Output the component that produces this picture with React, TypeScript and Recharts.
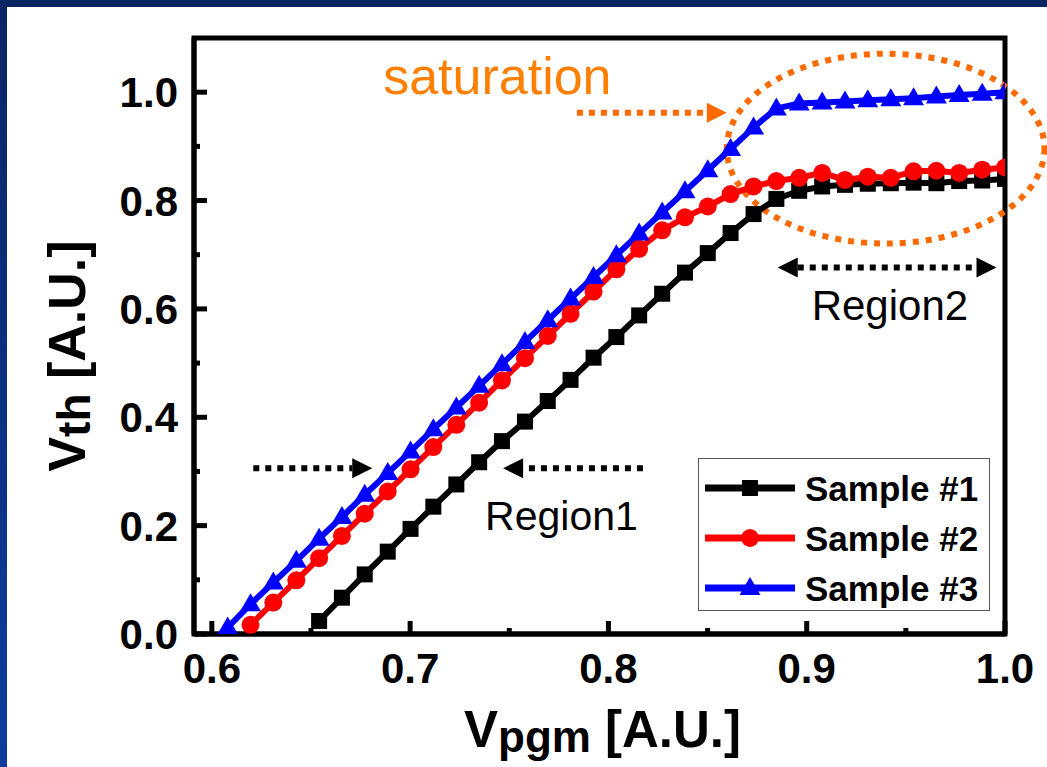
import React from 'react';
import {
  LineChart,
  Line,
  XAxis,
  YAxis,
  Legend,
  ReferenceLine,
  ReferenceArea,
  ReferenceDot,
} from 'recharts';

// Program voltage sweep (shared by all samples)
const vpgm = [
  0.608, 0.6195, 0.631, 0.6426, 0.6541, 0.6656, 0.6771, 0.6887, 0.7002, 0.7117,
  0.7233, 0.7348, 0.7463, 0.7579, 0.7694, 0.7809, 0.7925, 0.804, 0.8155, 0.8271,
  0.8386, 0.8501, 0.8616, 0.8732, 0.8847, 0.8962, 0.9078, 0.9193, 0.9308, 0.9424,
  0.9539, 0.9654, 0.9769, 0.9885, 1.0,
];

// Threshold voltage per sample (null = not measured at that step)
const sample1 = [
  null, null, null, null, 0.024, 0.067, 0.11, 0.152, 0.194, 0.235,
  0.276, 0.317, 0.356, 0.392, 0.43, 0.469, 0.51, 0.548, 0.588, 0.628,
  0.667, 0.703, 0.74, 0.775, 0.803, 0.818, 0.826, 0.829, 0.831, 0.832,
  0.833, 0.832, 0.836, 0.837, 0.84,
];
const sample2 = [
  null, 0.017, 0.058, 0.099, 0.14, 0.181, 0.222, 0.263, 0.304, 0.345,
  0.386, 0.427, 0.468, 0.509, 0.55, 0.591, 0.632, 0.673, 0.711, 0.745,
  0.769, 0.789, 0.812, 0.826, 0.836, 0.842, 0.851, 0.838, 0.844, 0.842,
  0.854, 0.855, 0.851, 0.857, 0.861,
];
const sample3 = [
  0.012, 0.055, 0.095, 0.135, 0.176, 0.216, 0.257, 0.297, 0.337, 0.378,
  0.418, 0.458, 0.498, 0.539, 0.579, 0.619, 0.659, 0.699, 0.739, 0.778,
  0.817, 0.856, 0.895, 0.935, 0.97, 0.979, 0.981, 0.983, 0.985, 0.987,
  0.989, 0.992, 0.995, 0.997, 1.0,
];

const seriesNames = ['Sample #1', 'Sample #2', 'Sample #3'];
const seriesKeys = ['s1', 's2', 's3'];
const seriesColors = ['#000000', '#ff0000', '#0000ff'];

const xTicks = [0.6, 0.65, 0.7, 0.75, 0.8, 0.85, 0.9, 0.95, 1.0];
const yTicks = [0, 0.1, 0.2, 0.3, 0.4, 0.5, 0.6, 0.7, 0.8, 0.9, 1.0];
const xDomain = [0.591, 1.0];
const yDomain = [0, 1.1];

const rows = vpgm.map((v, i) => ({ vpgm: v, s1: sample1[i], s2: sample2[i], s3: sample3[i] }));

const FONT = '"Liberation Sans", Arial, Helvetica, sans-serif';
const ORANGE = '#ff6a00';
const W = 1047;
const H = 767;

const isMajor = (v: number) => Math.abs(v * 10 - Math.round(v * 10)) < 1e-6;

// ---------- markers ----------
function Marker({ kind, cx, cy, color }: any) {
  if (cx == null || cy == null || isNaN(cx) || isNaN(cy)) return <g />;
  if (kind === 'square') return <rect x={cx - 8} y={cy - 8} width={16} height={16} fill={color} />;
  if (kind === 'circle') return <circle cx={cx} cy={cy} r={9} fill={color} />;
  return (
    <polygon
      points={`${cx},${cy - 11} ${cx - 10.5},${cy + 7} ${cx + 10.5},${cy + 7}`}
      fill={color}
    />
  );
}
const markerKinds: Record<string, string> = { s1: 'square', s2: 'circle', s3: 'triangle' };

const makeDot = (key: string, color: string) => (props: any) => (
  <Marker key={`${key}-${props.index}`} kind={markerKinds[key]} cx={props.cx} cy={props.cy} color={color} />
);

// ---------- axis ticks (inward, major + minor) ----------
function XTick(props: any) {
  const { x, y, payload } = props;
  const v = payload.value;
  const major = isMajor(v);
  return (
    <g>
      <line x1={x} y1={y} x2={x} y2={y - (major ? 13 : 6)} stroke="#000" strokeWidth={5} />
      {major && (
        <text x={x} y={y + 49} textAnchor="middle" fontFamily={FONT} fontWeight="bold" fontSize={42} fill="#000">
          {v.toFixed(1)}
        </text>
      )}
    </g>
  );
}

function YTick(props: any) {
  const { x, y, payload } = props;
  const v = payload.value;
  const major = isMajor(v / 2);
  return (
    <g>
      <line x1={x} y1={y} x2={x + (major ? 13 : 6)} y2={y} stroke="#000" strokeWidth={5} />
      {major && (
        <text x={x - 16} y={y + 15} textAnchor="end" fontFamily={FONT} fontWeight="bold" fontSize={42} fill="#000">
          {v.toFixed(1)}
        </text>
      )}
    </g>
  );
}

// ---------- axis titles ----------
function XTitle({ viewBox }: any) {
  const cx = viewBox.x + viewBox.width / 2 + 3;
  const by = viewBox.y + 113;
  return (
    <text x={cx} y={by} textAnchor="middle" fontFamily={FONT} fontWeight="bold" fill="#000">
      <tspan fontSize={51}>V</tspan>
      <tspan fontSize={44} dy={5}>pgm</tspan>
      <tspan fontSize={51} dy={-5}> [A.U.]</tspan>
    </text>
  );
}

function YTitle({ viewBox }: any) {
  const cy = viewBox.y + viewBox.height / 2 + 20;
  const bx = 85;
  return (
    <text
      x={bx}
      y={cy}
      transform={`rotate(-90, ${bx}, ${cy})`}
      textAnchor="middle"
      fontFamily={FONT}
      fontWeight="bold"
      fill="#000"
    >
      <tspan fontSize={52}>V</tspan>
      <tspan fontSize={46} dy={5}>th</tspan>
      <tspan fontSize={52} dy={-5}> [A.U.]</tspan>
    </text>
  );
}

// ---------- annotations ----------
function DottedArrow({ x1, y1, x2, y2, color, both }: any) {
  if ([x1, y1, x2, y2].some((v) => v == null || isNaN(v))) return <g />;
  const head = 20;
  const half = 10;
  const dir = Math.sign(x2 - x1) || 1;
  const startX = both ? x1 + dir * head : x1;
  const endX = x2 - dir * head;
  return (
    <g>
      <line x1={startX} y1={y1} x2={endX} y2={y2} stroke={color} strokeWidth={6} strokeDasharray="6 6" />
      <polygon points={`${x2},${y2} ${x2 - dir * head},${y2 - half} ${x2 - dir * head},${y2 + half}`} fill={color} />
      {both && (
        <polygon points={`${x1},${y1} ${x1 + dir * head},${y1 - half} ${x1 + dir * head},${y1 + half}`} fill={color} />
      )}
    </g>
  );
}

const arrowShape = (color: string, both = false) => (p: any) => (
  <DottedArrow x1={p.x1} y1={p.y1} x2={p.x2} y2={p.y2} color={color} both={both} />
);

const textShape = (label: string, color: string, size: number) => (p: any) => (
  <text x={p.cx} y={p.cy} fontFamily={FONT} fontSize={size} fill={color}>
    {label}
  </text>
);

const ellipseShape = (p: any) => (
  <ellipse
    cx={p.x + p.width / 2}
    cy={p.y + p.height / 2}
    rx={Math.abs(p.width) / 2}
    ry={Math.abs(p.height) / 2}
    fill="none"
    stroke={ORANGE}
    strokeWidth={6}
    strokeDasharray="6 7"
  />
);

// plot frame drawn around the whole axis box
const frameShape = (p: any) => (
  <rect
    x={p.x}
    y={p.y}
    width={p.width}
    height={p.height}
    fill="none"
    stroke="#000"
    strokeWidth={5}
    strokeLinejoin="miter"
  />
);

// ---------- legend ----------
function LegendBox(props: any) {
  const items = props.payload || [];
  return (
    <svg width={293} height={154} style={{ display: 'block' }}>
      <rect x={0.5} y={0.5} width={291} height={152} fill="#fff" stroke="#555" strokeWidth={1} />
      {items.map((it: any, i: number) => {
        const cy = 30 + i * 50;
        return (
          <g key={it.value}>
            <line x1={7} y1={cy} x2={97} y2={cy} stroke={it.color} strokeWidth={7} />
            <Marker kind={markerKinds[it.dataKey]} cx={52} cy={cy} color={it.color} />
            <text x={107} y={cy + 13} fontFamily={FONT} fontWeight="bold" fontSize={35} fill="#000">
              {it.value}
            </text>
          </g>
        );
      })}
    </svg>
  );
}

export default function App() {
  return (
    <div style={{ position: 'absolute', left: 0, top: 0, width: W, height: H, background: '#fff', overflow: 'hidden' }}>
      <div style={{ position: 'absolute', left: 0, top: 0, width: W, height: 7, background: '#0b2562' }} />
      <div
        style={{
          position: 'absolute',
          left: 0,
          top: 0,
          width: 7,
          height: H,
          background: 'linear-gradient(#0b2562, #0e3c9f)',
        }}
      />
      <div style={{ position: 'absolute', left: 0, top: 0 }}>
        <LineChart width={W} height={H} data={rows} margin={{ top: 38, right: 42, left: 0, bottom: 0 }}>
          <XAxis
            dataKey="vpgm"
            type="number"
            domain={xDomain}
            ticks={xTicks}
            interval={0}
            allowDataOverflow
            height={133}
            tickSize={0}
            tickMargin={0}
            tickLine={false}
            tick={<XTick />}
            axisLine={{ stroke: '#000', strokeWidth: 5 }}
            label={{ content: (p: any) => <XTitle viewBox={p.viewBox} /> }}
          />
          <YAxis
            type="number"
            domain={yDomain}
            ticks={yTicks}
            interval={0}
            allowDataOverflow
            width={194}
            tickSize={0}
            tickMargin={0}
            tickLine={false}
            tick={<YTick />}
            axisLine={{ stroke: '#000', strokeWidth: 5 }}
            label={{ content: (p: any) => <YTitle viewBox={p.viewBox} /> }}
          />

          <ReferenceArea
            x1={xDomain[0]}
            x2={xDomain[1]}
            y1={yDomain[0]}
            y2={yDomain[1]}
            ifOverflow="visible"
            shape={frameShape}
          />

          {seriesKeys.map((k, i) => (
            <Line
              key={k}
              dataKey={k}
              name={seriesNames[i]}
              type="linear"
              stroke={seriesColors[i]}
              strokeWidth={6}
              dot={makeDot(k, seriesColors[i])}
              activeDot={false}
              isAnimationActive={false}
            />
          ))}

          <ReferenceArea
            x1={0.8597}
            x2={1.0199}
            y1={0.7207}
            y2={1.071}
            ifOverflow="visible"
            shape={ellipseShape}
          />
          <ReferenceLine
            segment={[{ x: 0.7841, y: 0.962 }, { x: 0.8597, y: 0.962 }]}
            ifOverflow="visible"
            shape={arrowShape(ORANGE)}
          />
          <ReferenceLine
            segment={[{ x: 0.8854, y: 0.6765 }, { x: 0.9957, y: 0.6765 }]}
            ifOverflow="visible"
            shape={arrowShape('#000', true)}
          />
          <ReferenceLine
            segment={[{ x: 0.6209, y: 0.306 }, { x: 0.6809, y: 0.306 }]}
            ifOverflow="visible"
            shape={arrowShape('#000')}
          />
          <ReferenceLine
            segment={[{ x: 0.8174, y: 0.306 }, { x: 0.7469, y: 0.306 }]}
            ifOverflow="visible"
            shape={arrowShape('#000')}
          />
          <ReferenceDot x={0.6864} y={0.997} r={0} ifOverflow="visible" shape={textShape('saturation', '#ff7f00', 52)} />
          <ReferenceDot x={0.9025} y={0.579} r={0} ifOverflow="visible" shape={textShape('Region2', '#000', 42)} />
          <ReferenceDot x={0.7378} y={0.192} r={0} ifOverflow="visible" shape={textShape('Region1', '#000', 41)} />

          <Legend
            layout="vertical"
            align="center"
            verticalAlign="middle"
            content={<LegendBox />}
            wrapperStyle={{ left: 698, top: 458, width: 293, height: 154 }}
          />
        </LineChart>
      </div>
    </div>
  );
}
